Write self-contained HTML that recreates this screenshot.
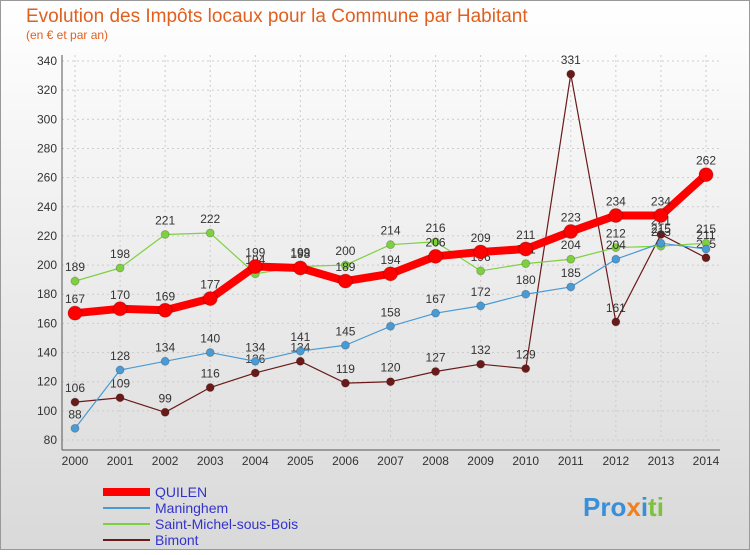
<!DOCTYPE html>
<html><head><meta charset="utf-8"><style>
body{margin:0;width:750px;height:550px;overflow:hidden;font-family:"Liberation Sans",sans-serif}
</style></head><body>
<svg id="c" width="750" height="550" xmlns="http://www.w3.org/2000/svg">
<defs><linearGradient id="bg" x1="0" y1="0" x2="0" y2="1"><stop offset="0" stop-color="#ffffff"/><stop offset="1" stop-color="#d9d9d9"/></linearGradient></defs>
<rect x="0.5" y="0.5" width="749" height="549" fill="url(#bg)" stroke="#999"/>
<text x="26" y="22" font-size="19" fill="#e06020">Evolution des Impôts locaux pour la Commune par Habitant</text>
<text x="26" y="39" font-size="12" fill="#e06020">(en € et par an)</text>
<g id="axes"></g><g id="series"></g>
<g>
<line x1="103" y1="492" x2="150" y2="492" stroke="#ff0000" stroke-width="8"/><text x="155" y="497" font-size="14" fill="#3333cc">QUILEN</text>
<line x1="103" y1="508" x2="150" y2="508" stroke="#4a9ad4" stroke-width="2"/><text x="155" y="513" font-size="14" fill="#3333cc">Maninghem</text>
<line x1="103" y1="524" x2="150" y2="524" stroke="#7fd040" stroke-width="2"/><text x="155" y="529" font-size="14" fill="#3333cc">Saint-Michel-sous-Bois</text>
<line x1="103" y1="540" x2="150" y2="540" stroke="#6b1a1a" stroke-width="2"/><text x="155" y="545" font-size="14" fill="#3333cc">Bimont</text>
</g>
<text x="583" y="516" font-size="26" font-weight="bold"><tspan fill="#3a8fd8">Pro</tspan><tspan fill="#f08020">x</tspan><tspan fill="#3a8fd8">i</tspan><tspan fill="#7fc040">ti</tspan></text>
</svg>
<script>
const years=[2000,2001,2002,2003,2004,2005,2006,2007,2008,2009,2010,2011,2012,2013,2014];
const quilen=[167,170,169,177,199,198,189,194,206,209,211,223,234,234,262];
const maninghem=[88,128,134,140,134,141,145,158,167,172,180,185,204,215,211];
const stMichel=[189,198,221,222,194,199,200,214,216,196,201,204,212,213,215];
const bimont=[106,109,99,116,126,134,119,120,127,132,129,331,161,221,205];
const yTicks=[80,100,120,140,160,180,200,220,240,260,280,300,320,340];
const NS="http://www.w3.org/2000/svg";
const x=i=>75+i*(706-75)/(years.length-1);
const y=v=>440-(v-80)*(440-61)/260;
function mk(t,a,p){const e=document.createElementNS(NS,t);for(const k in a)e.setAttribute(k,a[k]);p.appendChild(e);return e;}
const ax=document.getElementById('axes'),sg=document.getElementById('series');
yTicks.forEach(v=>{
 const l=mk('line',{x1:62,x2:720,y1:y(v),y2:y(v),stroke:'#ccc','stroke-dasharray':'2,3'},ax);
 
 
 const t=mk('text',{x:57,y:y(v)+4,'font-size':12,'text-anchor':'end',fill:'#333'},ax);t.textContent=v;
 
 
});
years.forEach((yr,i)=>{
 const l=mk('line',{x1:x(i),x2:x(i),y1:55,y2:440,stroke:'#ccc','stroke-dasharray':'2,3'},ax);
 
 
 const t=mk('text',{x:x(i),y:465,'font-size':12,'text-anchor':'middle',fill:'#333'},ax);t.textContent=yr;
 
 
});
const a1=mk('line',{x1:62,x2:62,y1:55,y2:450,stroke:'#555'},ax);


const a2=mk('line',{x1:62,x2:720,y1:450,y2:450,stroke:'#555'},ax);


function series(vals,color,w,r,name){
 const g=mk('g',{},sg);
 
 
 const p=mk('polyline',{points:vals.map((v,i)=>x(i)+','+y(v)).join(' '),fill:'none',stroke:color,'stroke-width':w,'stroke-linejoin':'round'},g);
 
 
 vals.forEach((v,i)=>{
  const c=mk('circle',{cx:x(i),cy:y(v),r:r,fill:color,stroke:'#0003'},g);
  
  
  const t=mk('text',{x:x(i),y:y(v)-10,'font-size':12,'text-anchor':'middle',fill:'#333'},g);t.textContent=v;
  
  
 });
}
series(bimont,'#6b1a1a',1.2,4,'bimont');
series(stMichel,'#7fd040',1.2,4,'saint-michel');
series(maninghem,'#4a9ad4',1.2,4,'maninghem');
series(quilen,'#ff0000',8,7,'quilen');
</script>
</body></html>
